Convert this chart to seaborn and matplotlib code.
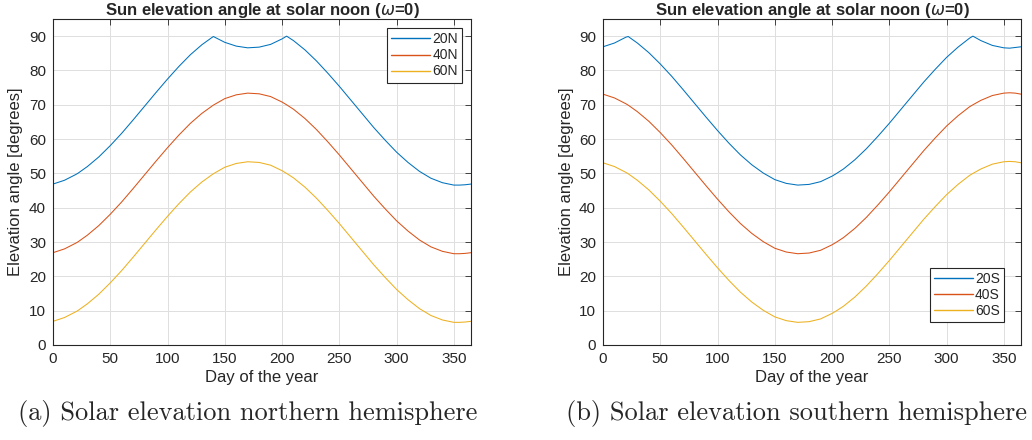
import matplotlib
matplotlib.use("Agg")
from matplotlib import pyplot as plt
import pandas as pd
import seaborn as sns

# day of year
days = [0, 10, 20, 22, 30, 40, 50, 60, 70, 80, 90, 100, 110, 120, 130, 140,
        150, 160, 170, 180, 190, 200, 204, 210, 220, 230, 240, 250, 260, 270,
        280, 290, 300, 310, 320, 323, 330, 340, 350, 355, 360, 365]

elev_20n = [46.9, 48.0, 49.7, 50.1, 52.0, 54.8, 58.1, 61.7, 65.6, 69.6, 73.6,
            77.5, 81.2, 84.6, 87.5, 89.9, 88.2, 87.1, 86.6, 86.8, 87.6, 89.2,
            90.0, 88.7, 86.0, 82.8, 79.2, 75.4, 71.4, 67.4, 63.4, 59.7, 56.2,
            53.2, 50.6, 50.0, 48.6, 47.3, 46.6, 46.6, 46.7, 46.9]
elev_40n = [26.9, 28.0, 29.7, 30.1, 32.0, 34.8, 38.1, 41.7, 45.6, 49.6, 53.6,
            57.5, 61.2, 64.6, 67.5, 69.9, 71.8, 72.9, 73.4, 73.2, 72.4, 70.8,
            70.0, 68.7, 66.0, 62.8, 59.2, 55.4, 51.4, 47.4, 43.4, 39.7, 36.2,
            33.2, 30.6, 30.0, 28.6, 27.3, 26.6, 26.6, 26.7, 26.9]
elev_60n = [6.9, 8.0, 9.7, 10.1, 12.0, 14.8, 18.1, 21.7, 25.6, 29.6, 33.6,
            37.5, 41.2, 44.6, 47.5, 49.9, 51.8, 52.9, 53.4, 53.2, 52.4, 50.8,
            50.0, 48.7, 46.0, 42.8, 39.2, 35.4, 31.4, 27.4, 23.4, 19.7, 16.2,
            13.2, 10.6, 10.0, 8.6, 7.3, 6.6, 6.6, 6.7, 6.9]
elev_20s = [86.9, 88.0, 89.7, 89.9, 88.0, 85.2, 81.9, 78.3, 74.4, 70.4, 66.4,
            62.5, 58.8, 55.4, 52.5, 50.1, 48.2, 47.1, 46.6, 46.8, 47.6, 49.2,
            50.0, 51.3, 54.0, 57.2, 60.8, 64.6, 68.6, 72.6, 76.6, 80.3, 83.8,
            86.8, 89.4, 90.0, 88.7, 87.3, 86.6, 86.5, 86.7, 86.9]
elev_40s = [73.1, 72.0, 70.3, 69.9, 68.0, 65.2, 61.9, 58.3, 54.4, 50.4, 46.4,
            42.5, 38.8, 35.4, 32.5, 30.1, 28.2, 27.1, 26.6, 26.8, 27.6, 29.2,
            30.0, 31.3, 34.0, 37.2, 40.8, 44.6, 48.6, 52.6, 56.6, 60.3, 63.8,
            66.8, 69.4, 70.0, 71.3, 72.7, 73.4, 73.5, 73.4, 73.1]
elev_60s = [53.1, 52.0, 50.3, 49.9, 48.0, 45.2, 41.9, 38.3, 34.4, 30.4, 26.4,
            22.5, 18.8, 15.4, 12.5, 10.1, 8.2, 7.1, 6.6, 6.8, 7.6, 9.2,
            10.0, 11.3, 14.0, 17.2, 20.8, 24.6, 28.6, 32.6, 36.6, 40.3, 43.8,
            46.8, 49.4, 50.0, 51.3, 52.7, 53.4, 53.5, 53.4, 53.1]

north_labels = ['20N', '40N', '60N']
south_labels = ['20S', '40S', '60S']
colors = ['#0072BD', '#D95319', '#EDB120']

sns.set_style('white')
plt.rcParams['font.family'] = ['Liberation Sans', 'DejaVu Sans']

north = pd.DataFrame({'day': days, '20N': elev_20n, '40N': elev_40n, '60N': elev_60n})
south = pd.DataFrame({'day': days, '20S': elev_20s, '40S': elev_40s, '60S': elev_60s})
north = north.melt(id_vars='day', var_name='lat', value_name='elev')
south = south.melt(id_vars='day', var_name='lat', value_name='elev')

fig = plt.figure(figsize=(10.32, 4.40), dpi=100)
ax1 = fig.add_axes([53 / 1032, 1 - 345 / 440, 418 / 1032, 326 / 440])
ax2 = fig.add_axes([603 / 1032, 1 - 345 / 440, 418 / 1032, 326 / 440])

dark = '#262626'
panels = [(ax1, north, north_labels, 'upper right', (0.9785, 0.972),
           '(a) Solar elevation northern hemisphere', 0.24),
          (ax2, south, south_labels, 'lower right', (0.959, 0.07),
           '(b) Solar elevation southern hemisphere', 0.772)]

for ax, df, labels, loc, anchor, caption, cx in panels:
    sns.lineplot(data=df, x='day', y='elev', hue='lat', hue_order=labels,
                 palette=colors, linewidth=0.75, ax=ax)
    ax.set_xlim(0, 365)
    ax.set_ylim(0, 95)
    ax.set_xticks(range(0, 351, 50))
    ax.set_yticks(range(0, 91, 10))
    ax.grid(True, color='#dfdfdf', linewidth=0.7)
    ax.tick_params(direction='in', top=True, right=True, length=4, width=0.6,
                   labelsize=11, colors=dark, pad=5)
    for sp in ax.spines.values():
        sp.set_color(dark)
        sp.set_linewidth(0.8)
    ax.set_xlabel('Day of the year', fontsize=12, color=dark, labelpad=3)
    ax.set_ylabel('Elevation angle [degrees]', fontsize=12, color=dark, labelpad=4)
    ax.set_title(r'Sun elevation angle at solar noon ($\omega$=0)', fontsize=12,
                 fontweight='bold', pad=3)
    leg = ax.legend(loc=loc, bbox_to_anchor=anchor, fontsize=10, fancybox=False,
                    framealpha=1, edgecolor=dark, handlelength=2.8,
                    handletextpad=0.15, labelspacing=0.15, borderpad=0.3,
                    borderaxespad=0)
    leg.get_frame().set_linewidth(0.8)
    for line in leg.get_lines():
        line.set_linewidth(1.0)
    fig.text(cx, 0.061, caption, ha='center', va='center', fontsize=19,
             family='cmr10')

fig.savefig('out.png', dpi=100)
